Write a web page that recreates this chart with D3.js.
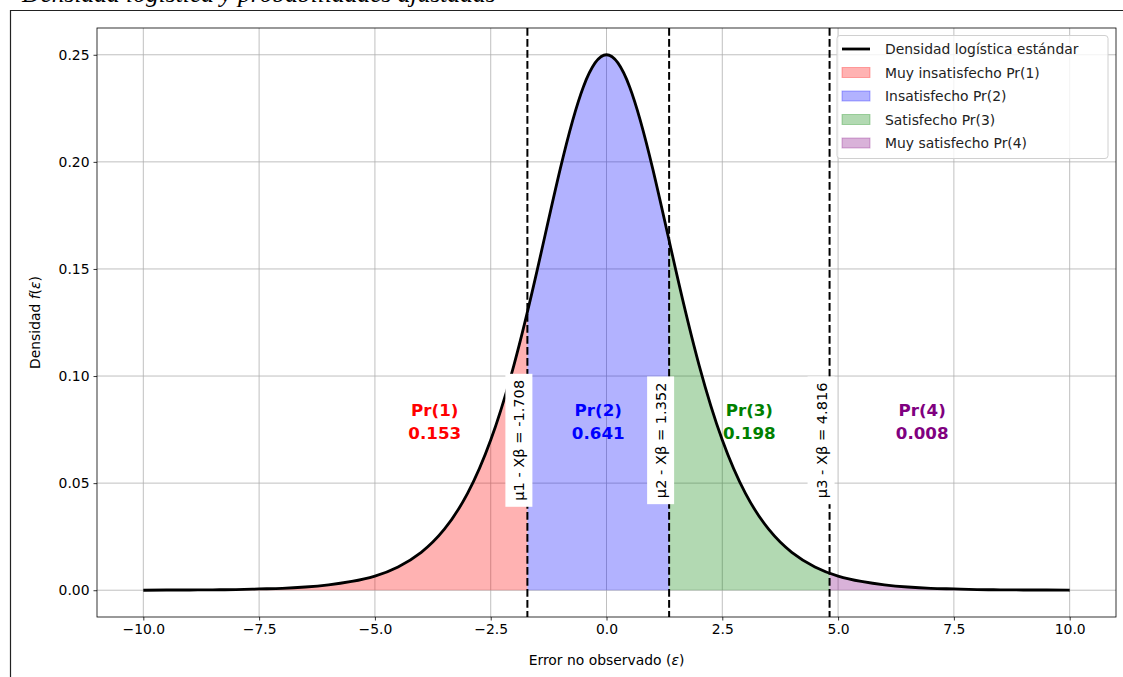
<!DOCTYPE html>
<html>
<head>
<meta charset="utf-8">
<script src="https://cdn.jsdelivr.net/npm/d3@7/dist/d3.min.js"></script>
<style>
  body { margin: 0; background: #fff; }
  svg { display: block; font-family: "DejaVu Sans", sans-serif; }
</style>
</head>
<body>
<svg id="chart" width="1123" height="677"></svg>
<script>
// error grid and logistic density
const xValues = [-10, -9.5, -9, -8.5, -8, -7.5, -7, -6.5, -6, -5.5, -5, -4.5, -4, -3.5, -3, -2.5, -2, -1.5, -1, -0.5,
  0, 0.5, 1, 1.5, 2, 2.5, 3, 3.5, 4, 4.5, 5, 5.5, 6, 6.5, 7, 7.5, 8, 8.5, 9, 9.5, 10];
const density = [0.0000, 0.0001, 0.0001, 0.0002, 0.0003, 0.0006, 0.0009, 0.0015, 0.0025, 0.0041, 0.0066, 0.0109, 0.0177, 0.0285, 0.0452, 0.0701, 0.1050, 0.1491, 0.1966, 0.2350,
  0.2500, 0.2350, 0.1966, 0.1491, 0.1050, 0.0701, 0.0452, 0.0285, 0.0177, 0.0109, 0.0066, 0.0041, 0.0025, 0.0015, 0.0009, 0.0006, 0.0003, 0.0002, 0.0001, 0.0001, 0.0000];

const thresholds = [-1.708, 1.352, 4.816];
const thresholdLabels = ['µ1 - Xβ = -1.708', 'µ2 - Xβ = 1.352', 'µ3 - Xβ = 4.816'];
const categories = ['Muy insatisfecho Pr(1)', 'Insatisfecho Pr(2)', 'Satisfecho Pr(3)', 'Muy satisfecho Pr(4)'];
const probNames = ['Pr(1)', 'Pr(2)', 'Pr(3)', 'Pr(4)'];
const probs = [0.153, 0.641, 0.198, 0.008];
const probX = [-3.708, -0.178, 3.084, 6.816];
const colors = ['red', 'blue', 'green', 'purple'];
const xTicks = [-10, -7.5, -5, -2.5, 0, 2.5, 5, 7.5, 10];
const yTicks = [0, 0.05, 0.10, 0.15, 0.20, 0.25];

const svg = d3.select('#chart');
const plotL = 97, plotR = 1116, plotT = 28, plotB = 617;

const x = d3.scaleLinear().domain([-11, 11]).range([plotL, plotR]);
const y = d3.scaleLinear().domain([-0.0125, 0.2625]).range([plotB, plotT]);

// cropped title and outer frame
svg.append('text')
  .attr('x', 22).attr('y', 1.5)
  .style('font-family', '"Liberation Serif", serif')
  .style('font-style', 'italic')
  .style('font-size', '25.5px')
  .attr('fill', '#000')
  .text('Densidad logística y probabilidades ajustadas');
svg.append('path')
  .attr('d', 'M10.5,677 V10.5 H1123')
  .attr('fill', 'none').attr('stroke', '#222').attr('stroke-width', 1.2);

const pts = xValues.map((v, i) => [v, density[i]]);

// grid
const grid = svg.append('g');
grid.selectAll('.gx').data(xTicks).enter().append('line')
  .attr('x1', d => x(d)).attr('x2', d => x(d)).attr('y1', plotT).attr('y2', plotB)
  .attr('stroke', '#b0b0b0').attr('stroke-width', 0.8);
grid.selectAll('.gy').data(yTicks).enter().append('line')
  .attr('x1', plotL).attr('x2', plotR).attr('y1', d => y(d)).attr('y2', d => y(d))
  .attr('stroke', '#b0b0b0').attr('stroke-width', 0.8);

// filled regions, clipped between thresholds
const bounds = [-10, ...thresholds, 10];
const area = d3.area().x(d => x(d[0])).y0(y(0)).y1(d => y(d[1])).curve(d3.curveNatural);
const defs = svg.append('defs');
colors.forEach((c, i) => {
  defs.append('clipPath').attr('id', 'clip' + i)
    .append('rect')
    .attr('x', x(bounds[i])).attr('y', plotT)
    .attr('width', x(bounds[i + 1]) - x(bounds[i])).attr('height', plotB - plotT);
  svg.append('path')
    .datum(pts)
    .attr('d', area)
    .attr('clip-path', `url(#clip${i})`)
    .attr('fill', c).attr('fill-opacity', 0.3);
});

// density curve
const line = d3.line().x(d => x(d[0])).y(d => y(d[1])).curve(d3.curveNatural);
svg.append('path').datum(pts).attr('d', line)
  .attr('fill', 'none').attr('stroke', '#000').attr('stroke-width', 2.8);

// thresholds
svg.selectAll('.thr').data(thresholds).enter().append('line')
  .attr('x1', d => x(d)).attr('x2', d => x(d)).attr('y1', plotT).attr('y2', plotB)
  .attr('stroke', '#000').attr('stroke-width', 2).attr('stroke-dasharray', '7.7,3.3');

thresholds.forEach((t, i) => {
  const g = svg.append('g').attr('transform', `translate(${x(t) - 3},${y(0.07)}) rotate(-90)`);
  const bg = g.append('rect').attr('fill', '#fff');
  const txt = g.append('text').attr('text-anchor', 'middle')
    .style('font-size', '14.6px').attr('fill', '#000').text(thresholdLabels[i]);
  const b = txt.node().getBBox();
  bg.attr('x', b.x - 6).attr('y', b.y - 5).attr('width', b.width + 12).attr('height', b.height + 10);
});

// probability labels
probs.forEach((p, i) => {
  const t = svg.append('text').attr('text-anchor', 'middle')
    .style('font-size', '16.7px').style('font-weight', 'bold').attr('fill', colors[i]);
  t.append('tspan').attr('x', x(probX[i])).attr('y', y(0.08) - 3).text(probNames[i]);
  t.append('tspan').attr('x', x(probX[i])).attr('y', y(0.08) + 20).text(p.toFixed(3));
});

// axes
const xAxis = svg.append('g').attr('transform', `translate(0,${plotB})`)
  .call(d3.axisBottom(x).tickValues(xTicks).tickSize(3.5).tickPadding(4)
    .tickFormat(d => d3.format('.1f')(d).replace('-', '\u2212')));
const yAxis = svg.append('g').attr('transform', `translate(${plotL},0)`)
  .call(d3.axisLeft(y).tickValues(yTicks).tickSize(3.5).tickPadding(4).tickFormat(d3.format('.2f')));
[xAxis, yAxis].forEach(a => {
  a.select('.domain').remove();
  a.selectAll('text').style('font-size', '13.9px').style('font-family', '"DejaVu Sans", sans-serif').attr('fill', '#000');
  a.selectAll('line').attr('stroke', '#000').attr('stroke-width', 0.8);
});
svg.append('rect').attr('x', plotL).attr('y', plotT).attr('width', plotR - plotL).attr('height', plotB - plotT)
  .attr('fill', 'none').attr('stroke', '#000').attr('stroke-width', 0.8);

// axis titles
const xl = svg.append('text').attr('x', (plotL + plotR) / 2).attr('y', 665).attr('text-anchor', 'middle')
  .style('font-size', '13.9px').attr('fill', '#000');
xl.append('tspan').text('Error no observado (');
xl.append('tspan').style('font-style', 'italic').text('ε');
xl.append('tspan').text(')');
const yl = svg.append('text').attr('transform', `translate(40,${(plotT + plotB) / 2}) rotate(-90)`)
  .attr('text-anchor', 'middle').style('font-size', '13.9px').attr('fill', '#000');
yl.append('tspan').text('Densidad ');
yl.append('tspan').style('font-style', 'italic').text('f');
yl.append('tspan').text('(');
yl.append('tspan').style('font-style', 'italic').text('ε');
yl.append('tspan').text(')');

// legend
const lg = svg.append('g');
lg.append('rect').attr('x', 837).attr('y', 35.5).attr('width', 271).attr('height', 123).attr('rx', 3)
  .attr('fill', '#fff').attr('fill-opacity', 0.8).attr('stroke', '#d0d0d0');
const rowY = d => 49 + d * 23.5;
lg.append('line').attr('x1', 842).attr('x2', 870).attr('y1', rowY(0)).attr('y2', rowY(0))
  .attr('stroke', '#000').attr('stroke-width', 2.8);
lg.append('text').attr('x', 885).attr('y', rowY(0) + 5).style('font-size', '13.9px').attr('fill', '#222')
  .text('Densidad logística estándar');
categories.forEach((c, i) => {
  lg.append('rect').attr('x', 842).attr('y', rowY(i + 1) - 5).attr('width', 28).attr('height', 10)
    .attr('fill', colors[i]).attr('fill-opacity', 0.3).attr('stroke', colors[i]).attr('stroke-opacity', 0.3);
  lg.append('text').attr('x', 885).attr('y', rowY(i + 1) + 5).style('font-size', '13.9px').attr('fill', '#222').text(c);
});
</script>
</body>
</html>
